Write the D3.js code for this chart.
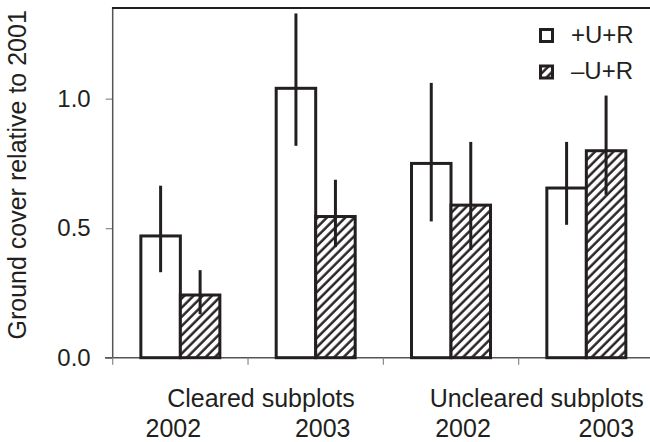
<!DOCTYPE html>
<html>
<head>
<meta charset="utf-8">
<script src="https://cdn.jsdelivr.net/npm/d3@7"></script>
<style>
	body { margin: 0; background: #fff; }
	svg text { font-family: "Liberation Sans", Arial, sans-serif; fill: #231f20; }
</style>
</head>
<body>
<svg id="svgChart" width="650" height="442"></svg>
<script>

// categories along the x axis (site x year)
var categories = ["Cleared 2002", "Cleared 2003", "Uncleared 2002", "Uncleared 2003"];
var groups = ["Cleared subplots", "Uncleared subplots"];
var years = ["2002", "2003", "2002", "2003"];
var treatments = ["+U+R", "\u2013U+R"];

// ground cover relative to 2001
var meanPlus  = [0.470, 1.040, 0.750, 0.655];
var lowPlus   = [0.330, 0.818, 0.526, 0.513];
var highPlus  = [0.664, 1.329, 1.061, 0.833];
var meanMinus = [0.242, 0.545, 0.589, 0.799];
var lowMinus  = [0.168, 0.427, 0.416, 0.629];
var highMinus = [0.338, 0.687, 0.833, 1.012];

var yTicks = [0, 0.5, 1.0];

class GroundCoverChart{
	/*
		Paired bars (+U+R open, -U+R hatched) with vertical error lines.
	*/
	constructor(svgId) {
		this.svg = d3.select(svgId);
		this.ink = "#231f20";
		this.grey = "#555";
		this.left = 112.7;
		this.top = 8;
		this.bottom = 357.7;

		this.xScale = d3.scaleBand()
						.domain(categories)
						.range([this.left, 654]);
		this.subScale = d3.scaleBand()
						.domain(treatments)
						.range([0, 79]);
		this.yScale = d3.scaleLinear()
						.domain([0, 1.35])
						.range([this.bottom, this.top]);

		this.visData = this._processData();
		this._addPattern();
		this._drawAxis();
		this._drawBars();
		this._drawLegend();
	}
	_processData(){
		/*
			one entry per bar: [{cat:, treat:, mean:, low:, high:},...]
		*/
		var out = [];
		for (var i = 0; i < categories.length; i++) {
			out.push({cat: categories[i], treat: treatments[0], mean: meanPlus[i], low: lowPlus[i], high: highPlus[i]});
			out.push({cat: categories[i], treat: treatments[1], mean: meanMinus[i], low: lowMinus[i], high: highMinus[i]});
		}
		return out;
	}
	_addPattern(){
		var p = this.svg.append("defs").append("pattern")
			.attr("id", "hatch")
			.attr("patternUnits", "userSpaceOnUse")
			.attr("width", 6.5)
			.attr("height", 6.5)
			.attr("patternTransform", "rotate(45)");
		p.append("rect").attr("width", 6.5).attr("height", 6.5).attr("fill", "#fff");
		p.append("line")
			.attr("x1", 1.5).attr("x2", 1.5)
			.attr("y1", 0).attr("y2", 6.5)
			.attr("stroke", this.ink)
			.attr("stroke-width", 2.4);
	}
	_drawAxis(){
		var that = this;
		var yAxis = d3.axisLeft(this.yScale)
					.tickValues(yTicks)
					.tickFormat(d3.format(".1f"))
					.tickSize(7)
					.tickPadding(15);
		var g = this.svg.append("g")
			.attr("transform", "translate(" + this.left + ",0)")
			.call(yAxis);
		g.select(".domain").remove();
		g.selectAll(".tick line").attr("stroke", "#888").attr("stroke-width", 1.2);
		g.selectAll(".tick text").style("font-size", "24px").attr("fill", this.ink);

		// frame: left and top
		this.svg.append("line")
			.attr("x1", this.left).attr("x2", this.left)
			.attr("y1", this.top).attr("y2", this.bottom)
			.attr("stroke", this.grey).attr("stroke-width", 1.5);
		this.svg.append("line")
			.attr("x1", this.left - 0.75).attr("x2", 650)
			.attr("y1", this.top).attr("y2", this.top)
			.attr("stroke", this.ink).attr("stroke-width", 2);
		// x axis
		this.svg.append("line")
			.attr("x1", 105).attr("x2", 650)
			.attr("y1", this.bottom).attr("y2", this.bottom)
			.attr("stroke", this.grey).attr("stroke-width", 1.5);
		this.svg.selectAll(".xtick")
			.data(categories)
			.enter().append("line")
			.attr("class", "xtick")
			.attr("x1", function(d) { return that.xScale(d); })
			.attr("x2", function(d) { return that.xScale(d); })
			.attr("y1", this.bottom)
			.attr("y2", this.bottom + 7)
			.attr("stroke", "#888").attr("stroke-width", 1.2);

		// group and year labels
		var groupDx = [13, 18];
		this.svg.selectAll(".groupLabel")
			.data(groups)
			.enter().append("text")
			.attr("class", "groupLabel")
			.attr("x", function(d, i) {
				return that.xScale(categories[2 * i + 1]) + groupDx[i];
			})
			.attr("y", 406.7)
			.attr("text-anchor", "middle")
			.style("font-size", "25px")
			.text(function(d) { return d; });
		var yearDx = [-7, 7, 12, 20];
		this.svg.selectAll(".yearLabel")
			.data(years)
			.enter().append("text")
			.attr("class", "yearLabel")
			.attr("x", function(d, i) {
				return that.xScale(categories[i]) + that.xScale.bandwidth() / 2 + yearDx[i];
			})
			.attr("y", 437)
			.attr("text-anchor", "middle")
			.style("font-size", "25px")
			.text(function(d) { return d; });

		this.svg.append("text")
			.attr("transform", "translate(26," + ((this.top + this.bottom) / 2 - 8) + ") rotate(-90)")
			.attr("text-anchor", "middle")
			.style("font-size", "25px")
			.text("Ground cover relative to 2001");
	}
	_barX(d){
		return this.xScale(d.cat) + (this.xScale.bandwidth() - this.subScale.range()[1]) / 2 + this.subScale(d.treat);
	}
	_drawBars(){
		var that = this;
		this.svg.selectAll(".bar")
			.data(this.visData)
			.enter().append("rect")
			.attr("class", "bar")
			.attr("x", function(d) { return that._barX(d); })
			.attr("width", this.subScale.bandwidth())
			.attr("y", function(d) { return that.yScale(d.mean); })
			.attr("height", function(d) { return that.yScale(0) - that.yScale(d.mean); })
			.attr("fill", function(d) { return d.treat == treatments[0] ? "#fff" : "url(#hatch)"; })
			.attr("stroke", this.ink)
			.attr("stroke-width", 3);

		this.svg.selectAll(".err")
			.data(this.visData)
			.enter().append("line")
			.attr("class", "err")
			.attr("x1", function(d) { return that._barX(d) + that.subScale.bandwidth() / 2; })
			.attr("x2", function(d) { return that._barX(d) + that.subScale.bandwidth() / 2; })
			.attr("y1", function(d) { return that.yScale(d.low); })
			.attr("y2", function(d) { return that.yScale(d.high); })
			.attr("stroke", this.ink)
			.attr("stroke-width", 3);
	}
	_drawLegend(){
		var that = this;
		var lg = this.svg.selectAll(".legend")
			.data(treatments)
			.enter().append("g")
			.attr("class", "legend")
			.attr("transform", function(d, i) { return "translate(539," + (28 + i * 36.5) + ")"; });
		lg.append("rect")
			.attr("x", 1.5).attr("y", 1.5)
			.attr("width", 12).attr("height", 12)
			.attr("fill", function(d, i) { return i == 0 ? "#fff" : "url(#hatch)"; })
			.attr("stroke", this.ink)
			.attr("stroke-width", 3);
		lg.append("text")
			.attr("x", 32)
			.attr("y", 14.5)
			.style("font-size", "24px")
			.text(function(d) { return d; });
	}
}

var chart = new GroundCoverChart("#svgChart");
</script>
</body>
</html>
